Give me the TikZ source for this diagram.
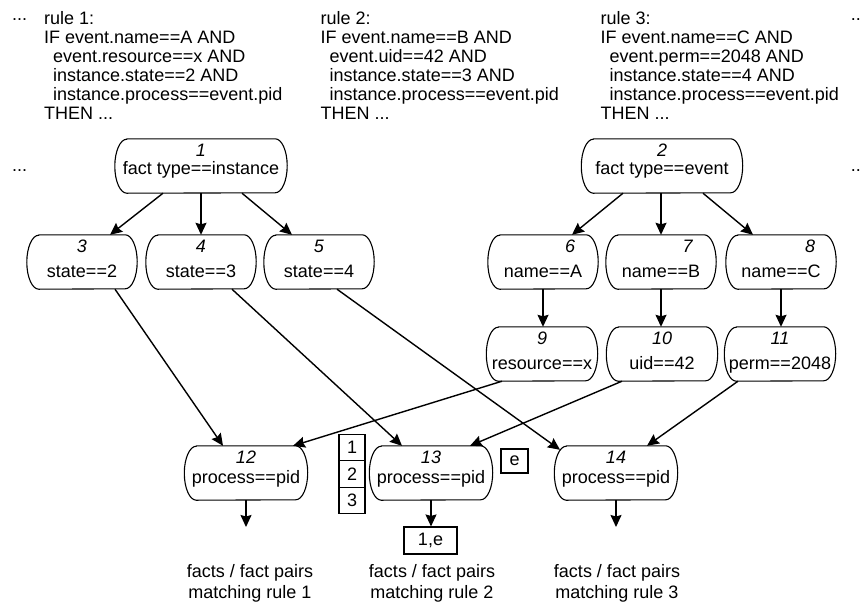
\documentclass[tikz,border=0pt]{standalone}
\usepackage{fontspec}
\setmainfont{Liberation Sans}
\usetikzlibrary{arrows.meta,calc}
\tikzset{
  txt/.style={inner sep=0pt, font=\fontsize{18}{19}\selectfont},
  rulebox/.style={txt, anchor=north west, align=left},
  rr/.style={inner sep=0pt, minimum height=54pt},
  outl/.style={draw, line width=1.1pt},
  sq/.style={draw, line width=1.1pt, inner sep=0pt, font=\fontsize{18}{19}\selectfont},
  arr/.style={line width=1.4pt, -{Stealth[length=12pt,width=11pt,inset=1.5pt]}},
}
% name, x, y, width, number, number dx, text, text baseline dy
\newcommand\mkbox[8]{%
  \node[rr, minimum width=#4] (#1) at (#2,#3) {};
  \draw[outl] ($(#1.north west)+(12pt,0)$) -- ($(#1.north east)+(-12pt,0)$)
     arc[start angle=90, end angle=-90, x radius=12pt, y radius=27pt]
     -- ($(#1.south west)+(12pt,0)$)
     arc[start angle=270, end angle=90, x radius=12pt, y radius=27pt] -- cycle;
  \node[txt, anchor=base] (#1n) at ($(#1.center)+(#6,-9.5)$) {\textit{#5}};
  \node[txt, anchor=base] (#1t) at ($(#1.center)+(0,#8)$) {#7};
}
\begin{document}
\begin{tikzpicture}[x=1pt,y=-1pt]
\useasboundingbox (0,0) rectangle (861,605);
% rule texts
\node[txt, anchor=base west] (d1) at (12,20) {...};
\node[txt, anchor=base west] (d2) at (12,171) {...};
\node[txt, anchor=base east] (d3) at (861,20) {..};
\node[txt, anchor=base east] (d4) at (861,171) {..};
\node[rulebox] (r1) at (44,11.5) {rule 1:\\IF event.name==A AND\\\hspace*{9pt}event.resource==x AND\\\hspace*{9pt}instance.state==2 AND\\\hspace*{9pt}instance.process==event.pid\\THEN ...};
\node[rulebox] (r2) at (320.5,11.5) {rule 2:\\IF event.name==B AND\\\hspace*{9pt}event.uid==42 AND\\\hspace*{9pt}instance.state==3 AND\\\hspace*{9pt}instance.process==event.pid\\THEN ...};
\node[rulebox] (r3) at (600.5,11.5) {rule 3:\\IF event.name==C AND\\\hspace*{9pt}event.perm==2048 AND\\\hspace*{9pt}instance.state==4 AND\\\hspace*{9pt}instance.process==event.pid\\THEN ...};
% nodes
\mkbox{n1}{201}{166}{172pt}{1}{0}{fact type==instance}{8.5}
\mkbox{n2}{662}{166}{161pt}{2}{0}{fact type==event}{8.5}
\mkbox{n3}{82}{262}{110pt}{3}{0}{state==2}{15.5}
\mkbox{n4}{201}{262}{110pt}{4}{0}{state==3}{15.5}
\mkbox{n5}{319}{262}{110pt}{5}{0}{state==4}{15.5}
\mkbox{n6}{543}{262}{110pt}{6}{27}{name==A}{15.5}
\mkbox{n7}{661}{262}{110pt}{7}{27}{name==B}{15.5}
\mkbox{n8}{781}{262}{110pt}{8}{29}{name==C}{15.5}
\mkbox{n9}{542}{354}{111pt}{9}{0}{resource==x}{15.5}
\mkbox{n10}{662}{354}{111pt}{10}{0}{uid==42}{15.5}
\mkbox{n11}{780}{354}{111pt}{11}{0}{perm==2048}{15.5}
\mkbox{n12}{246}{473}{123pt}{12}{0}{process==pid}{10.5}
\mkbox{n13}{431}{473}{123pt}{13}{0}{process==pid}{10.5}
\mkbox{n14}{616}{473}{123pt}{14}{0}{process==pid}{10.5}
% small boxes
\node[sq, minimum width=26pt, minimum height=26.5pt] (b1) at (352,447.5) {1};
\node[sq, minimum width=26pt, minimum height=26.5pt] (b2) at (352,474) {2};
\node[sq, minimum width=26pt, minimum height=26.5pt] (b3) at (352,500.5) {3};
\node[sq, minimum width=27pt, minimum height=24pt] (be) at (514.5,461) {e};
\node[sq, minimum width=53pt, minimum height=27pt] (b1e) at (430.5,540.5) {1,e};
% bottom texts
\node[txt, align=center, font=\fontsize{18}{21}\selectfont] (t1) at (250,583) {facts / fact pairs\\matching rule 1};
\node[txt, align=center, font=\fontsize{18}{21}\selectfont] (t2) at (432,583) {facts / fact pairs\\matching rule 2};
\node[txt, align=center, font=\fontsize{18}{21}\selectfont] (t3) at (617,583) {facts / fact pairs\\matching rule 3};
\coordinate (o12) at (246,527);
\coordinate (o14) at (616,527);
% edges
\draw[arr] ($(n1.south)+(-38,0)$) -- ($(n3.north)+(28,0)$);
\draw[arr] (n4.north |- n1.south) -- (n4.north);
\draw[arr] ($(n1.south)+(41,0)$) -- ($(n5.north)+(-27,0)$);
\draw[arr] ($(n2.south)+(-39,0)$) -- ($(n6.north)+(29,0)$);
\draw[arr] (n7.north |- n2.south) -- (n7.north);
\draw[arr] ($(n2.south)+(41,0)$) -- ($(n8.north)+(-28,0)$);
\draw[arr] (n6.south) -- (n9.north -| n6.south);
\draw[arr] (n7.south) -- (n10.north -| n7.south);
\draw[arr] (n8.south) -- (n11.north -| n8.south);
\draw[arr] ($(n3.south)+(33,0)$) -- ($(n12.north)+(-23,0)$);
\draw[arr] ($(n4.south)+(31,0)$) -- ($(n13.north)+(-29,0)$);
\draw[arr] ($(n5.south)+(18,0)$) -- ($(n14.north)+(-56,4)$);
\draw[arr] ($(n9.south)+(-40,0)$) -- ($(n12.north)+(47,0)$);
\draw[arr] ($(n10.south)+(-40,0)$) -- ($(n13.north)+(39,0)$);
\draw[arr] ($(n11.south)+(-42,0)$) -- ($(n14.north)+(31,0)$);
\draw[arr] (n12.south) -- (o12);
\draw[arr] (n13.south) -- (b1e.north -| n13.south);
\draw[arr] (n14.south) -- (o14);
\end{tikzpicture}
\end{document}
